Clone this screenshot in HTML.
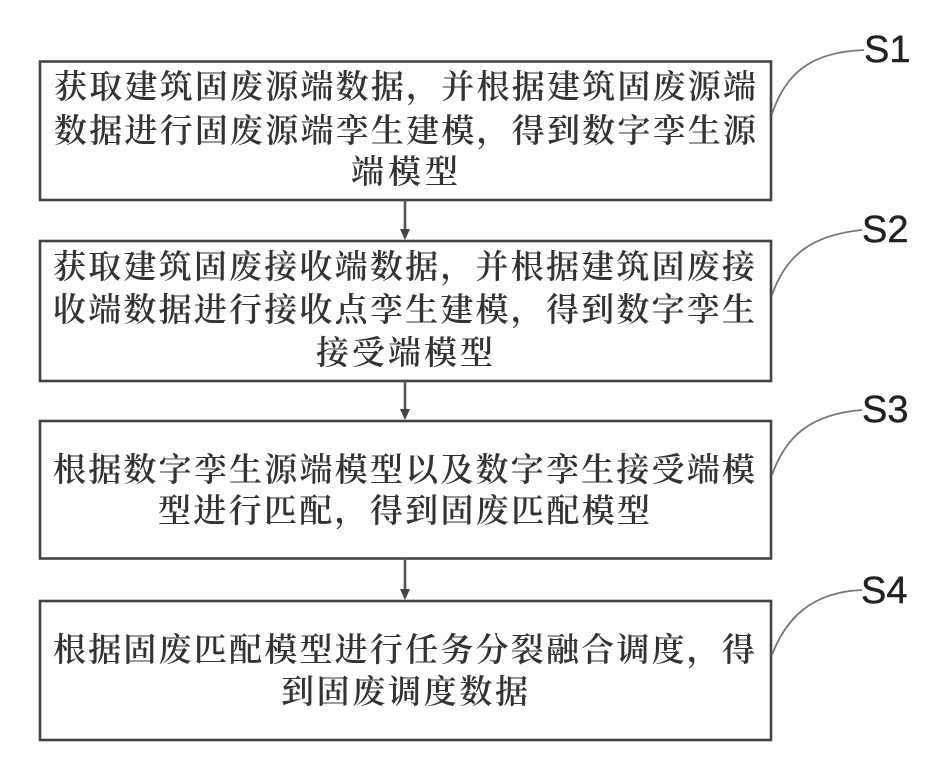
<!DOCTYPE html>
<html lang="zh"><head><meta charset="utf-8"><style>
html,body{margin:0;padding:0;background:#fff}
svg{display:block}
.t{font-family:"Noto Serif CJK SC",serif;font-size:33px;fill:#333;font-weight:600}
.s{font-family:"Liberation Sans","Noto Sans CJK SC",sans-serif;font-size:38px;fill:#222;stroke:#222;stroke-width:.4}
.b{fill:none;stroke:#444;stroke-width:2.6}
.c{fill:none;stroke:#777;stroke-width:1.8}
.a{stroke:#555;stroke-width:2.6;fill:none}
.h{fill:#444}
</style></head><body>
<svg width="929" height="770" viewBox="0 0 929 770" xmlns="http://www.w3.org/2000/svg">
<rect width="929" height="770" fill="#fff"/>
<rect class="b" x="40" y="61.500" width="731" height="138.500"/>
<rect class="b" x="40" y="241" width="731" height="140"/>
<rect class="b" x="40" y="421" width="731" height="137.500"/>
<rect class="b" x="40" y="601" width="731" height="139"/>
<path class="a" d="M405 200V232"/><path class="h" d="M400 229H410L405 240Z"/>
<path class="a" d="M405 381V412"/><path class="h" d="M400 409H410L405 420Z"/>
<path class="a" d="M405 558.500V592"/><path class="h" d="M400 589H410L405 600Z"/>
<path class="c" d="M772 114C786 72 812 52 864 50"/>
<path class="c" d="M772 295C786 255 812 235 862 230"/>
<path class="c" d="M772 475C786 435 812 414 862 410"/>
<path class="c" d="M772 655C786 618 812 592 862 590"/>
<text class="s" x="864" y="62">S1</text>
<text class="s" x="862" y="242">S2</text>
<text class="s" x="862" y="422">S3</text>
<text class="s" x="861" y="603">S4</text>
<g class="t">
<text x="54" y="98" textLength="702">获取建筑固废源端数据，并根据建筑固废源端</text>
<text x="54" y="142" textLength="702">数据进行固废源端孪生建模，得到数字孪生源</text>
<text x="351" y="183" textLength="107">端模型</text>
<text x="53" y="278" textLength="702">获取建筑固废接收端数据，并根据建筑固废接</text>
<text x="53" y="321" textLength="702">收端数据进行接收点孪生建模，得到数字孪生</text>
<text x="316" y="364" textLength="177">接受端模型</text>
<text x="53" y="481" textLength="702">根据数字孪生源端模型以及数字孪生接受端模</text>
<text x="158" y="522" textLength="492">型进行匹配，得到固废匹配模型</text>
<text x="53" y="661" textLength="702">根据固废匹配模型进行任务分裂融合调度，得</text>
<text x="281" y="703" textLength="247">到固废调度数据</text>
</g>
</svg>
</body></html>
